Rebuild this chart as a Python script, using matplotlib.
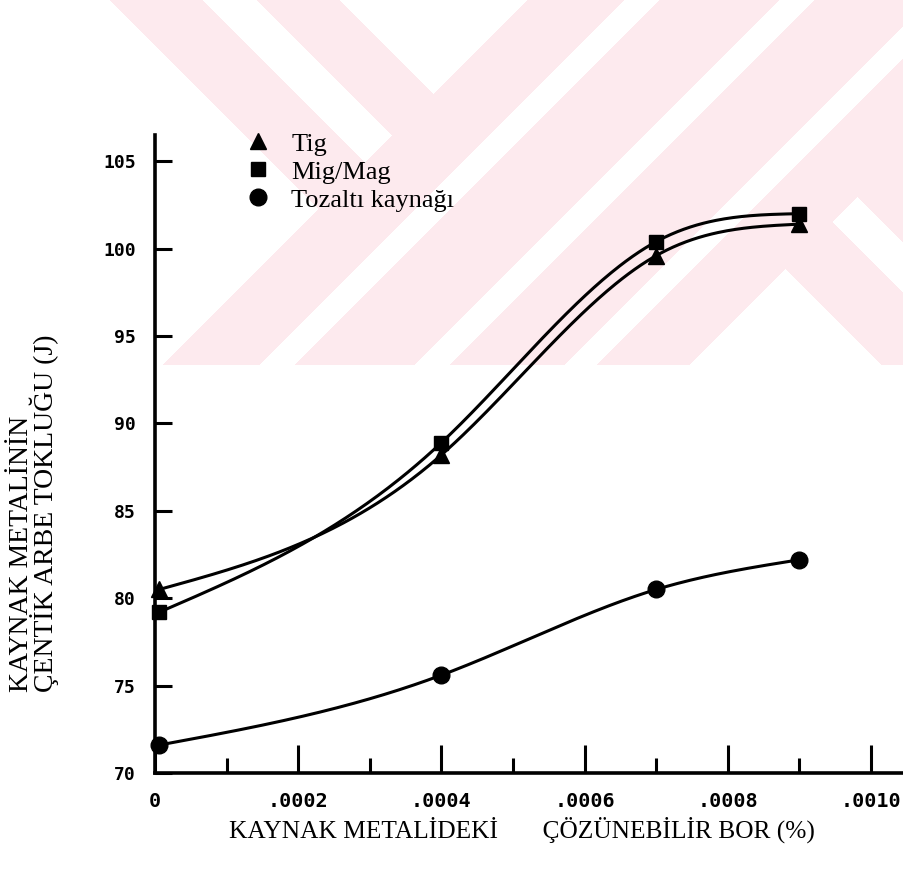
import numpy as np
import matplotlib
matplotlib.use('Agg')
import matplotlib.pyplot as plt
from matplotlib.lines import Line2D

# boron content (%) and notch impact toughness (J)
bor = [0.000006, 0.0004, 0.0007, 0.0009]
tig = [80.5, 88.2, 99.6, 101.4]
mig_mag = [79.2, 88.9, 100.4, 102.0]
tozalti = [71.6, 75.6, 80.5, 82.2]

series_labels = ['Tig', 'Mig/Mag', 'Tozaltı kaynağı']
series_markers = ['^', 's', 'o']
series_sizes = [11, 10.5, 12]

xtick_vals = [0, 0.0002, 0.0004, 0.0006, 0.0008, 0.0010]
xtick_labels = ['0', '.0002', '.0004', '.0006', '.0008', '.0010']
xminor_vals = [0.0001, 0.0003, 0.0005, 0.0007, 0.0009]
ytick_vals = [70, 75, 80, 85, 90, 95, 100, 105]

W, H = 904, 874
serif = 'Liberation Serif'


def natural_spline(x, y, n=300):
    # plain natural cubic spline through the measured points
    x = np.asarray(x, float) * 1e4
    y = np.asarray(y, float)
    k = len(x) - 1
    h = np.diff(x)
    A = np.zeros((k - 1, k - 1))
    r = np.zeros(k - 1)
    for i in range(1, k):
        A[i - 1, i - 1] = 2 * (h[i - 1] + h[i])
        if i - 2 >= 0:
            A[i - 1, i - 2] = h[i - 1]
        if i < k - 1:
            A[i - 1, i] = h[i]
        r[i - 1] = 6 * ((y[i + 1] - y[i]) / h[i] - (y[i] - y[i - 1]) / h[i - 1])
    M = np.zeros(k + 1)
    M[1:k] = np.linalg.solve(A, r)
    xs = np.linspace(x[0], x[-1], n)
    idx = np.clip(np.searchsorted(x, xs) - 1, 0, k - 1)
    x0, x1 = x[idx], x[idx + 1]
    hh = x1 - x0
    ys = (M[idx] * (x1 - xs) ** 3 / (6 * hh) + M[idx + 1] * (xs - x0) ** 3 / (6 * hh)
          + (y[idx] / hh - M[idx] * hh / 6) * (x1 - xs)
          + (y[idx + 1] / hh - M[idx + 1] * hh / 6) * (xs - x0))
    return xs / 1e4, ys


fig = plt.figure(figsize=(W / 100, H / 100), dpi=100)

# faint pink chevron watermark of the scanned page
bg = fig.add_axes([0, 0, 1, 1], zorder=0)
yy, xx = np.mgrid[0:H, 0:W] + 0.5
s = xx + yy
d = xx - yy
r1 = (s < 528) & (((d >= 110) & (d < 203)) | ((d >= 257) & (d < 340)))
r2 = (s >= 528) & (s < 1055) & ~(((s >= 625) & (s < 660)) | ((s >= 780) & (s < 815)) | ((s >= 930) & (s < 962)))
r3 = (s >= 1055) & (((d >= 517) & (d < 611)) | (d >= 661))
pink = (r1 | r2 | r3) & (yy < 365)
img = np.ones((H, W, 3))
img[pink] = np.array([253, 234, 238]) / 255.0
bg.imshow(img, extent=(0, W, H, 0), interpolation='nearest')
bg.set_xlim(0, W)
bg.set_ylim(H, 0)
bg.axis('off')

ax = fig.add_axes([155 / W, 1 - 773 / H, 1 - 155 / W, (773 - 135) / H], zorder=1)
ax.patch.set_alpha(0)

for vals, mk, ms in zip([tig, mig_mag, tozalti], series_markers, series_sizes):
    xs, ys = natural_spline(bor, vals)
    ax.plot(xs, ys, color='black', lw=2.2, zorder=2)
    ax.plot(bor, vals, ls='none', marker=mk, ms=ms, color='black', zorder=3, clip_on=False)

ax.set_xlim(0, 0.001046)
ax.set_ylim(70, 106.5)
for side in ['top', 'right']:
    ax.spines[side].set_visible(False)
for side in ['left', 'bottom']:
    ax.spines[side].set_linewidth(2.6)

ax.set_xticks(xtick_vals)
ax.set_xticklabels(xtick_labels)
ax.set_xticks(xminor_vals, minor=True)
ax.set_yticks(ytick_vals)
ax.tick_params(axis='x', which='major', direction='in', length=20, width=2.2, pad=14)
ax.tick_params(axis='x', which='minor', direction='in', length=11, width=2.2)
ax.tick_params(axis='y', which='major', direction='in', length=12, width=2.2, pad=14)
for lab in ax.get_xticklabels():
    lab.set_fontfamily('DejaVu Sans Mono')
    lab.set_fontweight('bold')
    lab.set_fontsize(14.5)
for lab in ax.get_yticklabels():
    lab.set_fontfamily('DejaVu Sans Mono')
    lab.set_fontweight('bold')
    lab.set_fontsize(13)

handles = [Line2D([], [], ls='none', marker=mk, ms=ms, color='black')
           for mk, ms in zip(series_markers, series_sizes)]
fig.legend(handles, series_labels, loc='upper left', bbox_to_anchor=(232 / W, 1 - 119 / H),
           frameon=False, borderpad=0, handlelength=1.0, handletextpad=0.75,
           labelspacing=0.17, prop={'family': serif, 'size': 19})

fig.text(522 / W, 1 - 830 / H, 'KAYNAK METALİDEKİ       ÇÖZÜNEBİLİR BOR (%)',
         ha='center', va='center', family=serif, fontsize=18.3)
fig.text(34 / W, 1 - 692 / H, 'KAYNAK METALİNİN\nÇENTİK ARBE TOKLUĞU (J)',
         rotation=90, ha='center', va='bottom', multialignment='left',
         family=serif, fontsize=20, linespacing=0.78)

fig.savefig('out.png', dpi=100)
